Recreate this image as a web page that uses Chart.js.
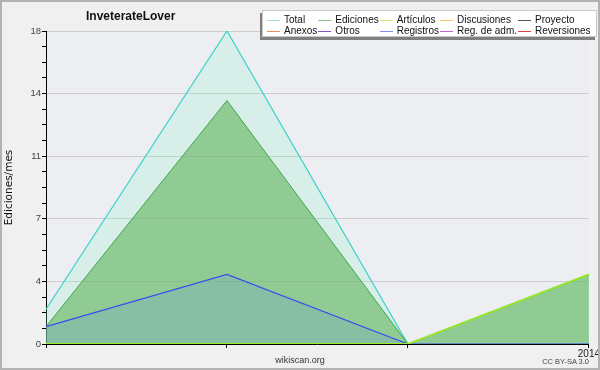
<!DOCTYPE html>
<html>
<head>
<meta charset="utf-8">
<script src="https://cdn.jsdelivr.net/npm/chart.js@4.4.0/dist/chart.umd.min.js"></script>
<style>
    html, body { margin: 0; padding: 0; background: #f0f0f0; }
    #wrap { position: relative; width: 600px; height: 370px; background: #f0f0f0; font-family: "Liberation Sans", Arial, sans-serif; }
    #frame { position: absolute; left: 0; top: 0; width: 600px; height: 370px; box-sizing: border-box; border: 2px solid #b2b2b2; pointer-events: none; }
    #title { position: absolute; left: 86px; top: 9px; font-weight: bold; font-size: 12px; line-height: 15px; color: #111; }
    #legend {
        position: absolute; left: 262px; top: 10px; width: 335px; height: 27px; box-sizing: border-box;
        background: #fff; border: 1px solid #c8c8c8; box-shadow: -2px 3px 0 #808080;
        padding: 3px 0 0 4px; display: grid; grid-template-columns: repeat(5, auto); justify-content: start;
        column-gap: 1px; font-size: 10px; line-height: 11px; color: #111;
    }
    #legend span.mark { display: inline-block; width: 13px; height: 1px; vertical-align: middle; margin-right: 4px; }
    #site { position: absolute; left: 0; width: 600px; top: 355px; text-align: center; font-size: 9px; color: #333; }
    #licence { position: absolute; right: 11px; top: 357px; font-size: 7.5px; color: #444; }
</style>
</head>
<body>
<div id="wrap">
    <canvas id="chart" width="600" height="370"></canvas>
    <div id="title">InveterateLover</div>
    <div id="legend"></div>
    <div id="site">wikiscan.org</div>
    <div id="licence">CC BY-SA 3.0</div>
    <div id="frame"></div>
</div>
<script>
// months shown on the x axis, only the year start is labelled
const xLabels = ['', '', '', '2014'];

const totalValues = [2, 18, 0, 4];
const edicionesValues = [1, 14, 0, 4];
const articulosValues = [0, 0, 0, 4];
const registrosValues = [1, 4, 0, 0];

const yMajorTicks = [0, 3.6, 7.2, 10.8, 14.4, 18];
const yTickLabels = ['0', '4', '7', '11', '14', '18'];

const legendNames = ['Total', 'Ediciones', 'Artículos', 'Discusiones', 'Proyecto',
    'Anexos', 'Otros', 'Registros', 'Reg. de adm.', 'Reversiones'];
const legendColors = ['#a6dede', '#86c896', '#c6ec6c', '#eed05e', '#555555',
    '#ee8a52', '#8452cc', '#7e8ef0', '#c65ede', '#e04040'];

const ActivityChart = {
    init() {
        this.buildLegend();
        this.drawChart();
    },

    buildLegend() {
        const box = document.getElementById('legend');
        legendNames.forEach((name, i) => {
            const cell = document.createElement('div');
            cell.innerHTML = `<span class="mark" style="background:${legendColors[i]}"></span>${name}`;
            box.appendChild(cell);
        });
    },

    isMajor(value) {
        return yMajorTicks.some(m => Math.abs(m - value) < 1e-6);
    },

    drawChart() {
        const ctx = document.getElementById('chart');

        const plotBackground = {
            id: 'plotBackground',
            beforeDraw(chart) {
                const a = chart.chartArea;
                chart.ctx.save();
                chart.ctx.fillStyle = '#edeef1';
                chart.ctx.fillRect(a.left, a.top, a.right - a.left, a.bottom - a.top);
                chart.ctx.restore();
            }
        };

        this.chart = new Chart(ctx, {
            type: 'line',
            data: {
                labels: xLabels,
                datasets: [
                    {
                        label: 'Artículos',
                        data: articulosValues,
                        borderColor: '#9ae826',
                        borderWidth: 1.8,
                        fill: false,
                        order: 0
                    },
                    {
                        label: 'Registros',
                        data: registrosValues,
                        borderColor: '#3a4cf0',
                        borderWidth: 1.2,
                        backgroundColor: 'rgba(90,143,224,0.2)',
                        fill: 'origin',
                        order: 1
                    },
                    {
                        label: 'Ediciones',
                        data: edicionesValues,
                        borderColor: '#3fa64a',
                        borderWidth: 1,
                        backgroundColor: 'rgba(98,178,92,0.6)',
                        fill: 'origin',
                        order: 2
                    },
                    {
                        label: 'Total',
                        data: totalValues,
                        borderColor: '#36d2ca',
                        borderWidth: 1.2,
                        backgroundColor: 'rgba(128,244,202,0.2)',
                        fill: 'origin',
                        order: 3
                    }
                ]
            },
            options: {
                responsive: false,
                animation: false,
                devicePixelRatio: 1,
                elements: {
                    point: { radius: 0 },
                    line: { tension: 0 }
                },
                layout: {
                    padding: { top: 31, right: 10, left: 0, bottom: 0 }
                },
                plugins: {
                    legend: { display: false },
                    tooltip: { enabled: false }
                },
                scales: {
                    x: {
                        z: 1,
                        offset: false,
                        border: { color: '#000', width: 1 },
                        grid: {
                            drawOnChartArea: false,
                            drawTicks: true,
                            tickLength: 4,
                            tickColor: '#000'
                        },
                        ticks: {
                            autoSkip: false,
                            maxRotation: 0,
                            padding: 0,
                            color: '#222',
                            font: { family: 'Liberation Sans', size: 10 }
                        },
                        afterFit(scale) {
                            scale.height = 26;
                        }
                    },
                    y: {
                        z: 1,
                        min: 0,
                        max: 18,
                        border: { color: '#000', width: 1 },
                        grid: {
                            color: (c) => this.isMajor(c.tick.value) ? '#cdcdcd' : 'rgba(0,0,0,0)',
                            drawTicks: true,
                            tickLength: 4,
                            tickColor: '#000'
                        },
                        afterBuildTicks: (scale) => {
                            const ticks = [];
                            for (let i = 0; i < yMajorTicks.length - 1; i++) {
                                const lo = yMajorTicks[i];
                                const step = (yMajorTicks[i + 1] - lo) / 4;
                                for (let k = 0; k < 4; k++) ticks.push({ value: lo + k * step });
                            }
                            ticks.push({ value: yMajorTicks[yMajorTicks.length - 1] });
                            scale.ticks = ticks;
                        },
                        ticks: {
                            autoSkip: false,
                            padding: 1,
                            color: '#444',
                            font: { family: 'Liberation Sans', size: 9.5 },
                            callback: (value) => {
                                const idx = yMajorTicks.findIndex(m => Math.abs(m - value) < 1e-6);
                                return idx >= 0 ? yTickLabels[idx] : '';
                            }
                        },
                        title: {
                            display: true,
                            text: 'Ediciones/mes',
                            color: '#111',
                            padding: { top: 3, bottom: 0 },
                            font: { family: 'DejaVu Sans', size: 10.5 }
                        },
                        afterFit(scale) {
                            scale.width = 46;
                        }
                    }
                }
            },
            plugins: [plotBackground]
        });
    }
};

document.addEventListener('DOMContentLoaded', () => {
    ActivityChart.init();
});
</script>
</body>
</html>
